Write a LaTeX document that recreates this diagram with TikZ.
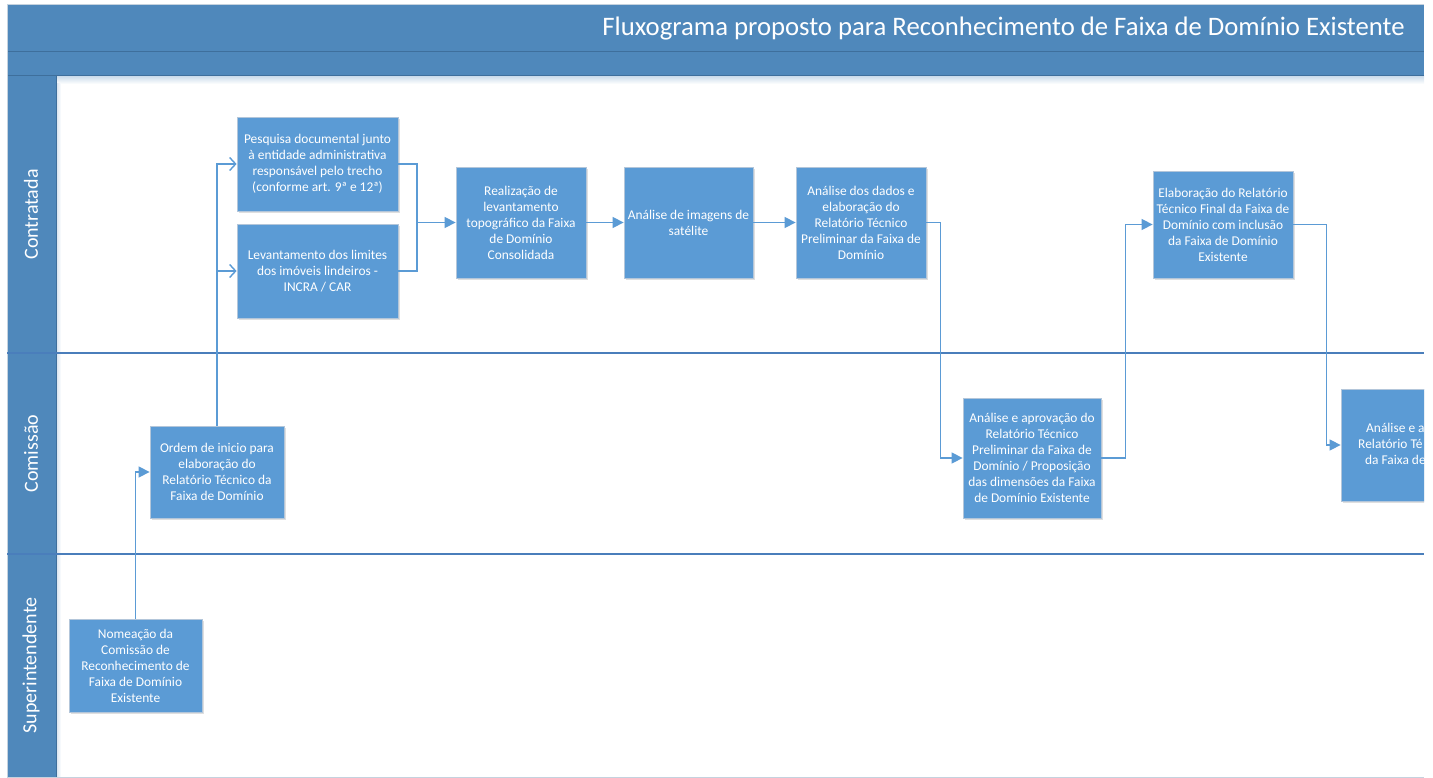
\documentclass[tikz,border=0pt]{standalone}
\usepackage{fontspec}
\setmainfont{Carlito}
\usetikzlibrary{arrows.meta,shadows}
\definecolor{hdr}{HTML}{4F88BB}
\definecolor{hdrline}{HTML}{3E6F9C}
\definecolor{boxfill}{HTML}{5B9BD5}
\definecolor{boxedge}{HTML}{B3C6DA}
\definecolor{connc}{HTML}{5B9BD5}
\definecolor{lanec}{HTML}{4A7EBB}
\definecolor{framec}{HTML}{C5D2DE}
\begin{document}
\begin{tikzpicture}[x=1pt,y=-1pt,
  boxfont/.style={font=\fontsize{13.4}{16}\selectfont},
  stepbox/.style={rectangle, fill=boxfill, draw=boxedge, line width=0.8pt, text=white,
    boxfont, align=center, inner sep=0pt,
    drop shadow={shadow xshift=1.5pt, shadow yshift=-2pt, opacity=0.25}},
  conn/.style={draw=connc, line width=1.4pt},
  tri/.style={conn, -{Triangle[length=11pt,width=11pt]}},
  barb/.style={conn, -{Straight Barb[length=6pt,width=13pt]}},
  lanelabel/.style={rotate=90, text=white, font=\fontsize{20}{22}\selectfont},
  laneline/.style={draw=lanec, line width=1.1pt}
]
\useasboundingbox (0,0) rectangle (1433,778);
% frame and header
\fill[white] (7,5) rectangle (1424,777);
\fill[hdr] (7,5) rectangle (1424,76);
\fill[hdr] (7,76) rectangle (56,777);
\shade[top color=hdr!30, bottom color=white] (56,76) rectangle (1424,84);
\shade[left color=hdr!25, right color=white] (56,84) rectangle (61,777);
\draw[hdrline, line width=1pt] (7,52) -- (1424,52);
\draw[hdrline, line width=1pt] (7,76) -- (1424,76);
\draw[hdrline, line width=1pt] (56,76) -- (56,777);
\draw[framec, line width=1pt] (1424,5) -- (7,5) -- (7,777) -- (1424,777);
\node[anchor=base east, inner sep=0pt, text=white, font=\fontsize{26.7}{30}\selectfont] (title) at (1405,36)
  {Fluxograma proposto para Reconhecimento de Faixa de Domínio Existente};
% lanes
\draw[laneline] (7,353) -- (1424,353);
\draw[laneline] (7,554) -- (1424,554);
\node[lanelabel] (l1) at (31,214.5) {Contratada};
\node[lanelabel] (l2) at (31,453.5) {Comissão};
\node[lanelabel] (l3) at (31,665.5) {Superintendente};
% boxes
\node[stepbox, minimum width=161pt, minimum height=94pt] (pesq) at (317.5,164)
  {Pesquisa documental junto\\à entidade administrativa\\responsável pelo trecho\\(conforme art. 9ª e 12ª)};
\node[stepbox, minimum width=161pt, minimum height=94pt] (lev) at (317.5,271)
  {Levantamento dos limites\\dos imóveis lindeiros -\\INCRA / CAR};
\node[stepbox, minimum width=130pt, minimum height=111pt] (real) at (521,222.5)
  {Realização de\\levantamento\\topográfico da Faixa\\de Domínio\\Consolidada};
\node[stepbox, minimum width=129pt, minimum height=111pt] (img) at (688.5,222.5)
  {Análise de imagens de\\satélite};
\node[stepbox, minimum width=130pt, minimum height=111pt] (dados) at (861,222.5)
  {Análise dos dados e\\elaboração do\\Relatório Técnico\\Preliminar da Faixa de\\Domínio};
\node[stepbox, minimum width=140pt, minimum height=107pt] (final) at (1223,224.5)
  {Elaboração do Relatório\\Técnico Final da Faixa de\\Domínio com inclusão\\da Faixa de Domínio\\Existente};
\node[stepbox, minimum width=138pt, minimum height=120pt] (aprov) at (1032,458)
  {Análise e aprovação do\\Relatório Técnico\\Preliminar da Faixa de\\Domínio / Proposição\\das dimensões da Faixa\\de Domínio Existente};
\node[stepbox, minimum width=134pt, minimum height=92pt] (ordem) at (217,472)
  {Ordem de inicio para\\elaboração do\\Relatório Técnico da\\Faixa de Domínio};
\node[stepbox, minimum width=133pt, minimum height=93pt] (nom) at (135.5,665.5)
  {Nomeação da\\Comissão de\\Reconhecimento de\\Faixa de Domínio\\Existente};
\begin{scope}
\clip (0,0) rectangle (1424,778);
\node[stepbox, minimum width=140pt, minimum height=112pt] (cut) at (1411,445) {};
\node[anchor=base west, text=white, boxfont, inner sep=0pt] (c1) at (1366,432) {Análise e a};
\node[anchor=base west, text=white, boxfont, inner sep=0pt] (c2) at (1358,448) {Relatório Té};
\node[anchor=base west, text=white, boxfont, inner sep=0pt] (c3) at (1365,464) {da Faixa de};
\end{scope}
% connectors
\draw[tri] (nom.north) |- (ordem.west);
\draw[barb] (ordem.north) |- (pesq.west);
\draw[barb] (ordem.north) |- (lev.west);
\coordinate (j1) at (417,222.5);
\draw[conn] (pesq.east) -| (j1);
\draw[conn] (lev.east) -| (j1);
\draw[tri] (j1) -- (real.west);
\draw[tri] (real.east) -- (img.west);
\draw[tri] (img.east) -- (dados.west);
\draw[tri] (dados.east) -- ++(14,0) |- (aprov.west);
\draw[tri] (aprov.east) -- ++(24,0) |- (final.west);
\draw[tri] (final.east) -- ++(33,0) |- (cut.west);
\end{tikzpicture}
\end{document}
